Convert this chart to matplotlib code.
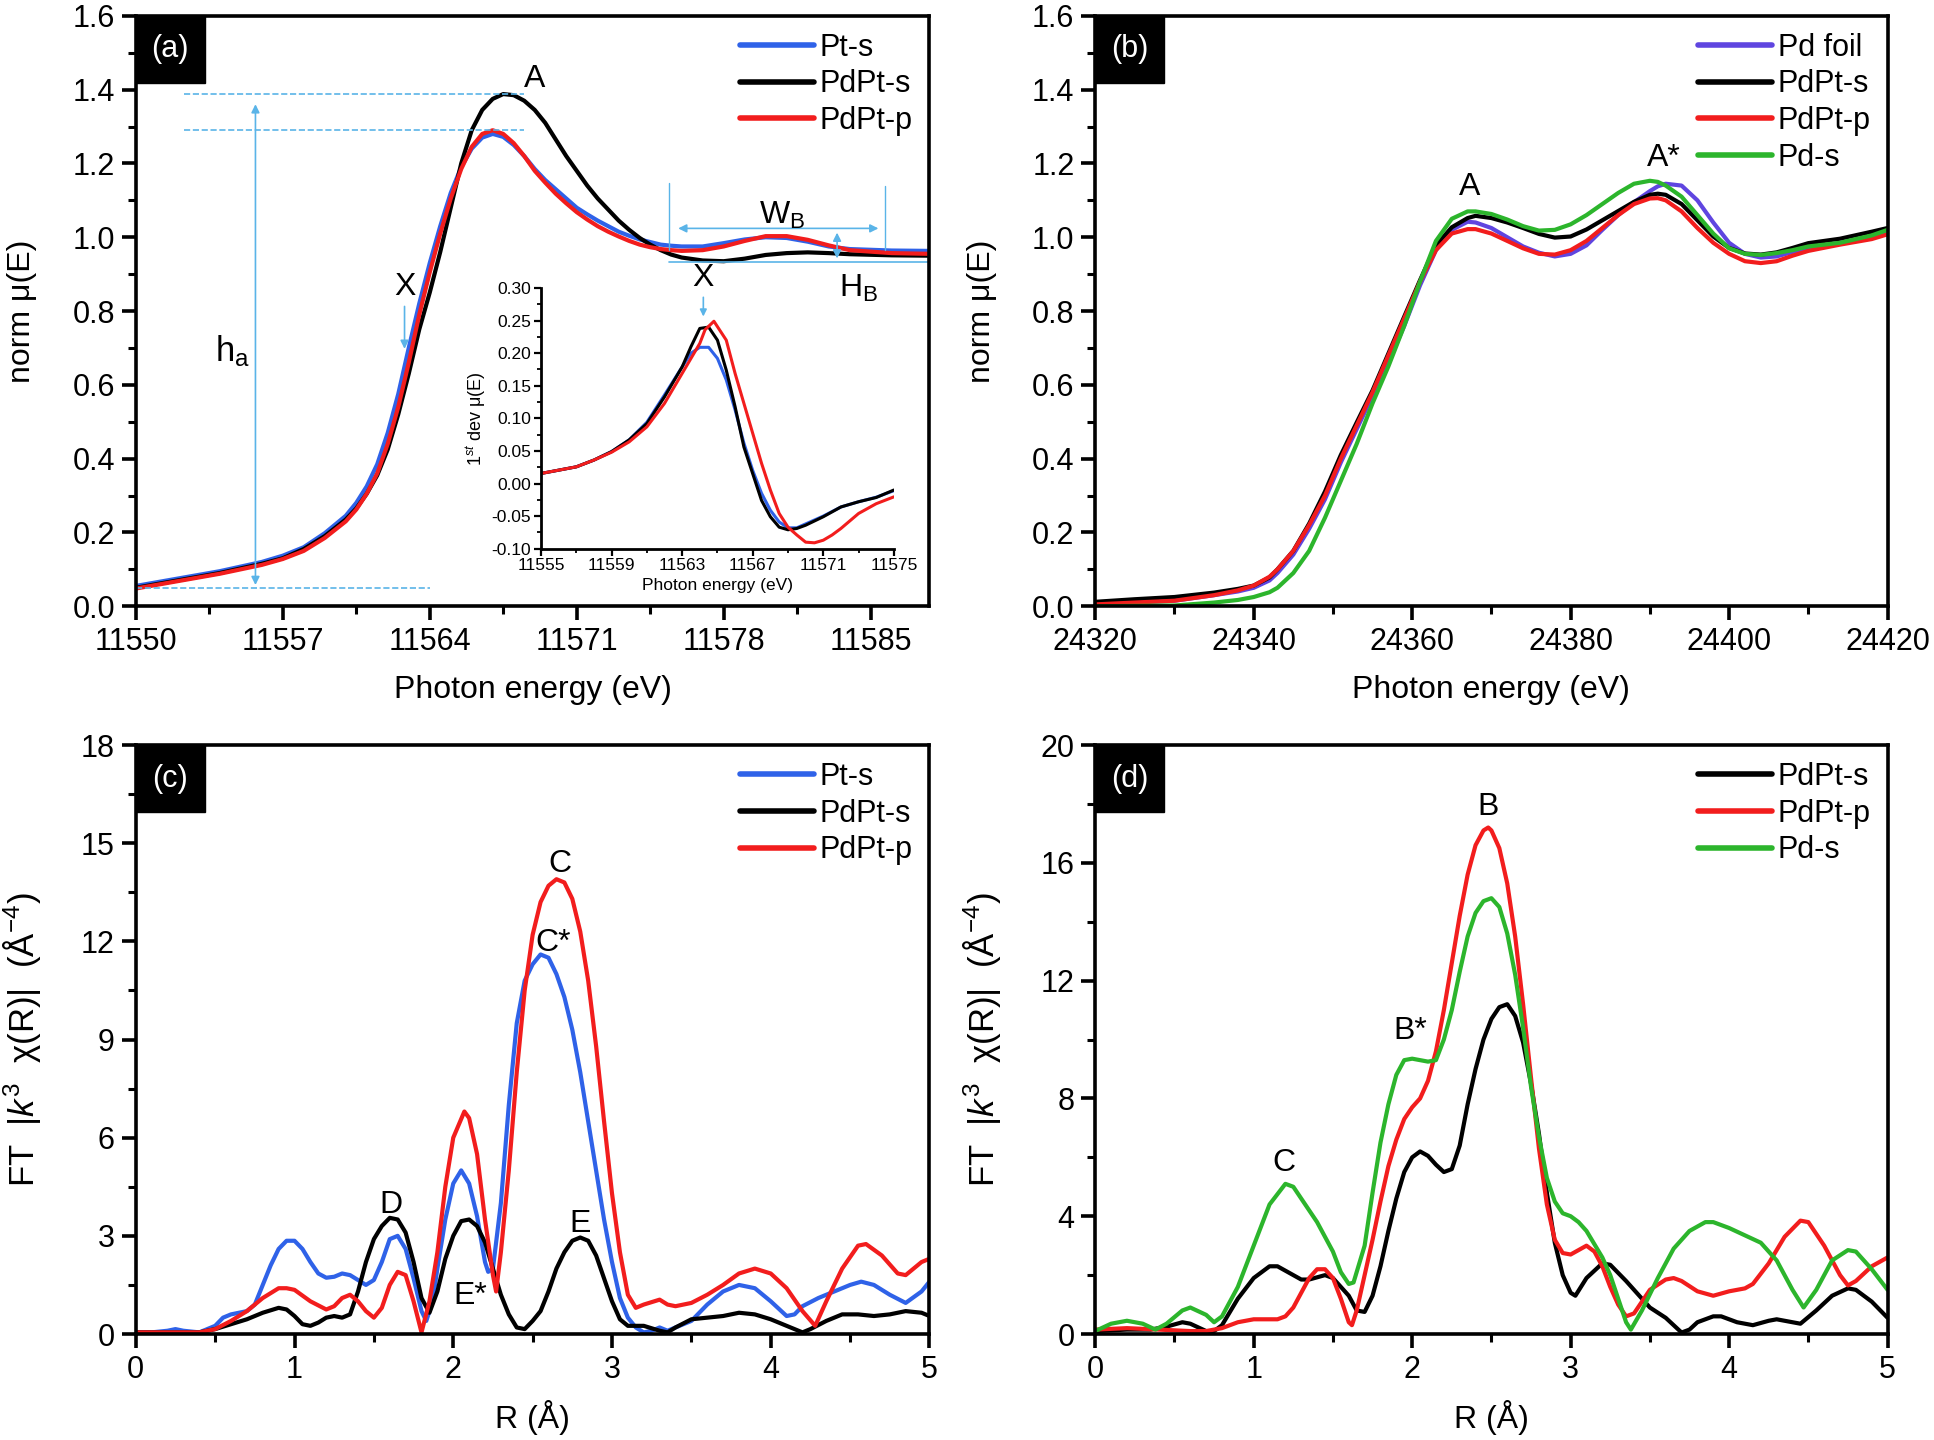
import numpy as np
import matplotlib
matplotlib.use("Agg")
import matplotlib.pyplot as plt
from matplotlib.patches import Rectangle

plt.rcParams['font.family'] = ['Liberation Sans', 'DejaVu Sans']
plt.rcParams['mathtext.fontset'] = 'custom'
plt.rcParams['mathtext.rm'] = 'Liberation Sans'
plt.rcParams['mathtext.it'] = 'Liberation Sans:italic'
plt.rcParams['lines.solid_joinstyle'] = 'round'
plt.rcParams['lines.solid_capstyle'] = 'round'

# ---------------- panel (a): Pt L3 edge XANES ----------------
ea = [11550, 11552, 11554, 11556, 11557, 11558, 11559, 11560, 11560.5, 11561, 11561.5, 11562,
      11562.5, 11563, 11563.5, 11564, 11564.5, 11565, 11565.5, 11566, 11566.5, 11567, 11567.5,
      11568, 11568.5, 11569, 11569.5, 11570, 11570.5, 11571, 11571.5, 11572, 11572.5, 11573,
      11573.5, 11574, 11574.5, 11575, 11575.5, 11576, 11577, 11578, 11579, 11580, 11581, 11582,
      11583, 11584, 11586, 11587.8]
mu_black = [0.05, 0.07, 0.09, 0.115, 0.13, 0.155, 0.19, 0.235, 0.265, 0.305, 0.355, 0.425,
            0.52, 0.63, 0.75, 0.85, 0.96, 1.08, 1.20, 1.29, 1.345, 1.375, 1.388,
            1.385, 1.37, 1.345, 1.31, 1.265, 1.22, 1.18, 1.14, 1.105, 1.075, 1.045,
            1.02, 0.998, 0.98, 0.965, 0.953, 0.945, 0.937, 0.935, 0.942, 0.952, 0.957, 0.959,
            0.957, 0.954, 0.951, 0.95]
mu_pts = [0.055, 0.075, 0.095, 0.12, 0.137, 0.16, 0.198, 0.245, 0.28, 0.325, 0.385, 0.47,
          0.575, 0.70, 0.82, 0.93, 1.03, 1.12, 1.19, 1.24, 1.27, 1.28, 1.272,
          1.25, 1.22, 1.185, 1.155, 1.13, 1.105, 1.08, 1.062, 1.045, 1.03, 1.015,
          1.004, 0.994, 0.987, 0.98, 0.977, 0.975, 0.975, 0.984, 0.994, 1.0, 0.998, 0.988,
          0.975, 0.968, 0.964, 0.963]
mu_red = [0.048, 0.068, 0.088, 0.112, 0.128, 0.15, 0.185, 0.23, 0.262, 0.305, 0.36, 0.44,
          0.54, 0.66, 0.79, 0.905, 1.01, 1.105, 1.185, 1.245, 1.28, 1.29, 1.28,
          1.255, 1.22, 1.18, 1.148, 1.118, 1.092, 1.068, 1.048, 1.03, 1.015, 1.002,
          0.99, 0.98, 0.973, 0.968, 0.965, 0.963, 0.965, 0.975, 0.99, 1.003, 1.003, 0.993,
          0.978, 0.965, 0.957, 0.955]

# inset: first derivative
ei = [11555, 11556, 11557, 11558, 11559, 11560, 11561, 11562, 11563, 11563.5, 11564, 11564.5,
      11565, 11565.5, 11566, 11566.5, 11567, 11567.5, 11568, 11568.5, 11569, 11569.5, 11570,
      11571, 11572, 11573, 11574, 11575]
d_black = [0.0154, 0.0205, 0.0256, 0.036, 0.049, 0.067, 0.092, 0.133, 0.179, 0.21, 0.238, 0.24,
           0.22, 0.174, 0.118, 0.056, 0.015, -0.026, -0.051, -0.067, -0.071, -0.069, -0.064,
           -0.051, -0.036, -0.028, -0.0215, -0.010]
d_pts = [0.0154, 0.0205, 0.0256, 0.036, 0.049, 0.067, 0.094, 0.136, 0.179, 0.20, 0.209, 0.209,
         0.192, 0.159, 0.113, 0.062, 0.02, -0.015, -0.041, -0.059, -0.068, -0.068, -0.062,
         -0.050, -0.036, -0.028, -0.021, -0.011]
ei_red = [11555, 11556, 11557, 11558, 11559, 11560, 11561, 11562, 11563, 11564, 11564.3, 11564.8,
          11565.5, 11566, 11566.5, 11567, 11567.5, 11568, 11568.5, 11569, 11569.5, 11570, 11570.5,
          11571, 11571.5, 11572, 11573, 11574, 11575]
d_red = [0.0154, 0.0205, 0.0256, 0.036, 0.048, 0.064, 0.087, 0.123, 0.169, 0.215, 0.236, 0.249,
         0.22, 0.169, 0.123, 0.077, 0.031, -0.01, -0.046, -0.067, -0.079, -0.09, -0.091,
         -0.087, -0.079, -0.069, -0.046, -0.031, -0.0205]

# ---------------- panel (b): Pd K edge XANES ----------------
eb = [24320, 24325, 24330, 24335, 24338, 24340, 24342, 24343, 24345, 24347, 24349, 24351, 24353,
      24355, 24357, 24359, 24361, 24363, 24365, 24367, 24368, 24370, 24372, 24374, 24376, 24378,
      24380, 24382, 24384, 24386, 24388, 24390, 24391, 24392, 24394, 24396, 24398, 24400, 24402,
      24404, 24406, 24408, 24410, 24414, 24418, 24420]
b_black = [0.012, 0.019, 0.025, 0.037, 0.047, 0.056, 0.078, 0.10, 0.15, 0.224, 0.311, 0.41, 0.498,
           0.585, 0.685, 0.785, 0.884, 0.978, 1.027, 1.052, 1.058, 1.052, 1.04, 1.025, 1.009,
           0.999, 1.002, 1.021, 1.046, 1.071, 1.096, 1.115, 1.118, 1.115, 1.09, 1.046, 1.002,
           0.971, 0.956, 0.953, 0.959, 0.971, 0.984, 0.996, 1.015, 1.025]
b_red = [0.005, 0.01, 0.015, 0.03, 0.043, 0.056, 0.08, 0.10, 0.15, 0.22, 0.30, 0.40, 0.49,
         0.58, 0.68, 0.78, 0.88, 0.965, 1.01, 1.022, 1.022, 1.01, 0.99, 0.97, 0.955,
         0.953, 0.965, 0.99, 1.025, 1.06, 1.09, 1.105, 1.106, 1.10, 1.07, 1.025, 0.985,
         0.955, 0.935, 0.93, 0.935, 0.95, 0.963, 0.98, 0.995, 1.008]
b_foil = [0.005, 0.01, 0.015, 0.03, 0.04, 0.05, 0.07, 0.09, 0.14, 0.21, 0.29, 0.39, 0.48,
          0.57, 0.66, 0.76, 0.87, 0.965, 1.02, 1.042, 1.04, 1.025, 1.0, 0.975, 0.958,
          0.948, 0.955, 0.978, 1.02, 1.06, 1.095, 1.125, 1.138, 1.145, 1.14, 1.10, 1.04,
          0.985, 0.955, 0.945, 0.948, 0.96, 0.97, 0.985, 1.0, 1.015]
b_pds = [0.0, 0.001, 0.002, 0.01, 0.017, 0.025, 0.038, 0.05, 0.09, 0.15, 0.24, 0.34, 0.44,
         0.55, 0.65, 0.76, 0.88, 0.99, 1.05, 1.07, 1.07, 1.063, 1.048, 1.03, 1.018,
         1.02, 1.035, 1.06, 1.09, 1.12, 1.145, 1.153, 1.15, 1.14, 1.11, 1.06, 1.01,
         0.97, 0.955, 0.952, 0.957, 0.965, 0.975, 0.985, 1.005, 1.02]

# ---------------- panel (c): FT Pt edge ----------------
rc_blue = [0, 0.1, 0.2, 0.25, 0.3, 0.4, 0.5, 0.55, 0.6, 0.7, 0.75, 0.8, 0.85, 0.9, 0.95, 1.0,
           1.05, 1.1, 1.15, 1.2, 1.25, 1.3, 1.35, 1.4, 1.45, 1.5, 1.55, 1.6, 1.65, 1.7, 1.75,
           1.8, 1.83, 1.87, 1.9, 1.95, 2.0, 2.05, 2.1, 2.15, 2.2, 2.22, 2.25, 2.3, 2.35, 2.4,
           2.45, 2.5, 2.55, 2.6, 2.65, 2.7, 2.75, 2.8, 2.85, 2.9, 2.95, 3.0, 3.05, 3.1, 3.15,
           3.2, 3.25, 3.3, 3.35, 3.4, 3.5, 3.6, 3.7, 3.8, 3.9, 4.0, 4.1, 4.15, 4.2, 4.3, 4.4,
           4.5, 4.57, 4.65, 4.75, 4.85, 4.95, 5.0]
c_blue = [0.05, 0.05, 0.1, 0.15, 0.1, 0.05, 0.25, 0.5, 0.6, 0.7, 0.9, 1.5, 2.1, 2.6, 2.85, 2.85,
          2.6, 2.2, 1.85, 1.72, 1.75, 1.85, 1.8, 1.65, 1.5, 1.65, 2.2, 2.9, 3.0, 2.6, 1.7,
          0.7, 0.4, 1.0, 2.0, 3.5, 4.6, 5.0, 4.6, 3.6, 2.2, 1.9, 2.0, 4.0, 7.0, 9.5,
          10.8, 11.3, 11.6, 11.5, 11.0, 10.3, 9.3, 8.0, 6.5, 5.0, 3.5, 2.2, 1.1, 0.5, 0.2,
          0.05, 0.1, 0.2, 0.1, 0.2, 0.4, 0.9, 1.3, 1.5, 1.4, 1.0, 0.55, 0.6, 0.85, 1.1, 1.3,
          1.5, 1.6, 1.5, 1.2, 0.95, 1.3, 1.6]
rc_red = [0, 0.3, 0.4, 0.5, 0.6, 0.7, 0.8, 0.9, 0.95, 1.0, 1.1, 1.2, 1.25, 1.3, 1.35, 1.4, 1.45,
          1.5, 1.55, 1.6, 1.65, 1.7, 1.75, 1.8, 1.85, 1.9, 1.95, 2.0, 2.07, 2.1, 2.15, 2.2,
          2.25, 2.27, 2.3, 2.35, 2.4, 2.45, 2.5, 2.55, 2.6, 2.65, 2.7, 2.75, 2.8, 2.85, 2.9,
          2.95, 3.0, 3.05, 3.1, 3.15, 3.2, 3.3, 3.35, 3.4, 3.5, 3.6, 3.7, 3.8, 3.9, 4.0, 4.1,
          4.2, 4.28, 4.35, 4.45, 4.55, 4.6, 4.7, 4.8, 4.85, 4.95, 5.0]
c_red = [0.05, 0.05, 0.05, 0.15, 0.4, 0.7, 1.1, 1.4, 1.4, 1.35, 1.0, 0.75, 0.85, 1.1, 1.2, 1.0, 0.7,
         0.5, 0.8, 1.5, 1.9, 1.8, 1.0, 0.05, 1.0, 2.5, 4.5, 6.0, 6.8, 6.6, 5.5, 3.5,
         1.8, 1.3, 2.5, 5.0, 8.0, 10.5, 12.2, 13.2, 13.7, 13.9, 13.8, 13.3, 12.3, 10.8, 8.8,
         6.5, 4.3, 2.5, 1.2, 0.8, 0.9, 1.05, 0.9, 0.85, 0.95, 1.2, 1.5, 1.85, 2.0, 1.85, 1.4,
         0.7, 0.25, 1.0, 2.0, 2.7, 2.75, 2.4, 1.85, 1.8, 2.2, 2.3]
rc_black = [0, 0.3, 0.4, 0.5, 0.6, 0.7, 0.8, 0.9, 0.95, 1.0, 1.05, 1.1, 1.15, 1.2, 1.25, 1.3, 1.35,
            1.4, 1.45, 1.5, 1.55, 1.6, 1.65, 1.7, 1.75, 1.8, 1.85, 1.9, 1.95, 2.0, 2.05, 2.1,
            2.15, 2.2, 2.25, 2.3, 2.35, 2.4, 2.45, 2.5, 2.55, 2.6, 2.65, 2.7, 2.75, 2.8, 2.85,
            2.9, 2.95, 3.0, 3.05, 3.1, 3.2, 3.3, 3.35, 3.4, 3.5, 3.6, 3.7, 3.8, 3.9, 4.0, 4.1,
            4.2, 4.25, 4.35, 4.45, 4.55, 4.65, 4.75, 4.85, 4.95, 5.0]
c_black = [0.05, 0.05, 0.05, 0.15, 0.3, 0.45, 0.65, 0.8, 0.75, 0.55, 0.3, 0.25, 0.35, 0.5, 0.55, 0.5, 0.6,
           1.3, 2.2, 2.9, 3.3, 3.55, 3.5, 3.1, 2.2, 1.1, 0.65, 1.3, 2.3, 3.0, 3.45, 3.5,
           3.3, 2.8, 2.0, 1.2, 0.6, 0.2, 0.15, 0.4, 0.7, 1.3, 2.0, 2.5, 2.85, 2.95, 2.85,
           2.4, 1.7, 1.0, 0.45, 0.25, 0.25, 0.1, 0.05, 0.2, 0.45, 0.5, 0.55, 0.65, 0.6, 0.45, 0.25,
           0.05, 0.15, 0.4, 0.6, 0.6, 0.55, 0.6, 0.7, 0.65, 0.55]

# ---------------- panel (d): FT Pd edge ----------------
rd_black = [0, 0.2, 0.35, 0.45, 0.55, 0.6, 0.7, 0.75, 0.8, 0.9, 1.0, 1.1, 1.15, 1.2, 1.3, 1.35,
            1.45, 1.5, 1.6, 1.65, 1.7, 1.75, 1.8, 1.85, 1.9, 1.95, 2.0, 2.05, 2.1, 2.15, 2.2,
            2.25, 2.3, 2.35, 2.4, 2.45, 2.5, 2.55, 2.6, 2.65, 2.7, 2.75, 2.8, 2.85, 2.9, 2.95,
            3.0, 3.03, 3.1, 3.2, 3.25, 3.35, 3.45, 3.5, 3.6, 3.7, 3.75, 3.8, 3.9, 3.95, 4.05,
            4.15, 4.25, 4.3, 4.4, 4.45, 4.55, 4.65, 4.75, 4.8, 4.9, 5.0]
d_black_ft = [0.1, 0.15, 0.15, 0.25, 0.4, 0.35, 0.1, 0.1, 0.3, 1.2, 1.9, 2.3, 2.3, 2.15, 1.85, 1.85,
              2.0, 1.9, 1.3, 0.8, 0.75, 1.3, 2.3, 3.5, 4.6, 5.5, 6.0, 6.2, 6.05, 5.75, 5.5,
              5.6, 6.4, 7.8, 9.0, 10.0, 10.7, 11.1, 11.2, 10.8, 9.9, 8.5, 6.8, 4.8, 3.1, 2.0,
              1.4, 1.3, 1.9, 2.4, 2.35, 1.8, 1.2, 0.9, 0.55, 0.05, 0.15, 0.4, 0.6, 0.6, 0.4,
              0.3, 0.45, 0.5, 0.4, 0.35, 0.8, 1.3, 1.55, 1.5, 1.1, 0.55]
rd_red = [0, 0.2, 0.4, 0.6, 0.7, 0.8, 0.9, 1.0, 1.1, 1.15, 1.2, 1.25, 1.3, 1.35, 1.4, 1.45, 1.5,
          1.55, 1.6, 1.62, 1.65, 1.7, 1.75, 1.8, 1.85, 1.9, 1.95, 2.0, 2.05, 2.1, 2.15, 2.2,
          2.25, 2.3, 2.35, 2.4, 2.45, 2.48, 2.5, 2.55, 2.6, 2.65, 2.7, 2.75, 2.8, 2.85, 2.9,
          2.95, 3.0, 3.05, 3.1, 3.15, 3.2, 3.25, 3.3, 3.35, 3.4, 3.45, 3.5, 3.6, 3.65, 3.7,
          3.8, 3.9, 4.0, 4.1, 4.15, 4.25, 4.35, 4.45, 4.5, 4.6, 4.7, 4.75, 4.8, 4.9, 5.0]
d_red_ft = [0.15, 0.2, 0.15, 0.1, 0.1, 0.2, 0.4, 0.5, 0.5, 0.5, 0.6, 0.9, 1.4, 1.9, 2.2, 2.2, 1.9,
            1.2, 0.4, 0.3, 0.8, 2.0, 3.2, 4.5, 5.7, 6.6, 7.3, 7.7, 8.0, 8.6, 9.6, 11.0,
            12.6, 14.2, 15.6, 16.6, 17.1, 17.2, 17.1, 16.5, 15.3, 13.5, 11.2, 8.7, 6.3, 4.4, 3.2,
            2.75, 2.7, 2.85, 3.0, 2.8, 2.3, 1.6, 1.0, 0.6, 0.7, 1.1, 1.5, 1.85, 1.9, 1.8,
            1.45, 1.3, 1.45, 1.55, 1.7, 2.4, 3.3, 3.85, 3.8, 3.0, 2.0, 1.65, 1.8, 2.3, 2.6]
rd_green = [0, 0.1, 0.2, 0.3, 0.38, 0.45, 0.55, 0.6, 0.7, 0.75, 0.8, 0.9, 1.0, 1.1, 1.2, 1.25,
            1.3, 1.4, 1.5, 1.55, 1.6, 1.63, 1.7, 1.75, 1.8, 1.85, 1.9, 1.95, 2.0, 2.05, 2.1,
            2.15, 2.2, 2.25, 2.3, 2.35, 2.4, 2.45, 2.5, 2.55, 2.6, 2.65, 2.7, 2.75, 2.8, 2.85,
            2.9, 2.95, 3.0, 3.05, 3.1, 3.2, 3.25, 3.3, 3.35, 3.38, 3.45, 3.55, 3.65, 3.75, 3.85,
            3.9, 4.0, 4.1, 4.2, 4.3, 4.4, 4.47, 4.55, 4.65, 4.75, 4.8, 4.9, 5.0]
d_green_ft = [0.1, 0.35, 0.45, 0.35, 0.15, 0.35, 0.8, 0.9, 0.65, 0.4, 0.6, 1.6, 3.0, 4.4, 5.1, 5.0,
              4.6, 3.8, 2.8, 2.1, 1.7, 1.75, 3.0, 4.8, 6.5, 7.8, 8.8, 9.3, 9.35, 9.3, 9.25,
              9.3, 10.0, 11.0, 12.3, 13.5, 14.3, 14.7, 14.8, 14.5, 13.6, 12.2, 10.4, 8.4, 6.7, 5.3,
              4.5, 4.1, 4.0, 3.8, 3.5, 2.6, 2.0, 1.2, 0.4, 0.15, 0.8, 1.9, 2.9, 3.5, 3.8,
              3.8, 3.6, 3.35, 3.1, 2.5, 1.5, 0.9, 1.5, 2.5, 2.85, 2.8, 2.2, 1.5]

c_blue_col = '#2f62e8'
c_red_col = '#f21d1d'
c_green_col = '#2cb52c'
c_foil_col = '#5f45e0'
c_guide = '#5ab4e8'

FS = 22
LFS = 23
LW = 3.0

fig = plt.figure(figsize=(19.34, 14.4), dpi=100)

pos_a = [0.0702, 0.579, 0.4104, 0.410]
pos_b = [0.5663, 0.579, 0.4097, 0.410]
pos_c = [0.0702, 0.0736, 0.4104, 0.409]
pos_d = [0.5663, 0.0736, 0.4097, 0.409]


def style(ax, tag, xlab, ylab, yfs=LFS):
    for s in ax.spines.values():
        s.set_linewidth(2.6)
    ax.tick_params(which='major', direction='out', length=10, width=2.6, labelsize=FS,
                   top=False, right=False, pad=5)
    ax.tick_params(which='minor', direction='out', length=6, width=2.2, top=False, right=False)
    ax.add_patch(Rectangle((0, 1), 0.087, -0.1135, transform=ax.transAxes,
                           color='black', zorder=5, clip_on=False))
    ax.text(0.0435, 1 - 0.057, tag, transform=ax.transAxes, color='white',
            ha='center', va='center', fontsize=FS, zorder=6)
    ax.set_xlabel(xlab, fontsize=LFS)
    ax.set_ylabel(ylab, fontsize=yfs)
    ax.xaxis.set_label_coords(0.5, -0.142)
    ax.xaxis.label.set_va('center')
    ax.yaxis.set_label_coords(-0.143, 0.5)
    ax.yaxis.label.set_va('center')


def legend(ax):
    lg = ax.legend(loc='upper right', frameon=False, fontsize=FS, handlelength=2.4,
                   handletextpad=0.2, labelspacing=0.22, borderaxespad=0.15)
    for h in lg.get_lines():
        h.set_linewidth(4.0)


# ---- (a)
ax = fig.add_axes(pos_a)
ax.plot(ea, mu_pts, color=c_blue_col, lw=LW, label='Pt-s')
ax.plot(ea, mu_black, color='black', lw=LW, label='PdPt-s')
ax.plot(ea, mu_red, color=c_red_col, lw=LW, label='PdPt-p')
ax.set_xlim(11550, 11587.8)
ax.set_ylim(0, 1.6)
ax.set_xticks([11550, 11557, 11564, 11571, 11578, 11585])
ax.set_xticks(np.arange(11553.5, 11587, 7), minor=True)
ax.set_yticks(np.arange(0, 1.61, 0.2))
ax.set_yticks(np.arange(0.1, 1.6, 0.2), minor=True)
ax.yaxis.set_major_formatter(matplotlib.ticker.FormatStrFormatter('%.1f'))
style(ax, '(a)', 'Photon energy (eV)', 'norm μ(E)')
legend(ax)

# guide lines for h_a, W_B and H_B
top_black = max(mu_black)
top_red = max(mu_red)
base = mu_black[0]
ax.plot([11552.3, 11568.5], [top_black, top_black], ls='--', lw=1.2, color=c_guide)
ax.plot([11552.3, 11568.5], [top_red, top_red], ls='--', lw=1.2, color=c_guide)
ax.plot([11550, 11564], [base, base], ls='--', lw=1.2, color=c_guide)
ax.annotate('', xy=(11555.7, base), xytext=(11555.7, top_black - 0.02),
            arrowprops=dict(arrowstyle='<|-|>', color=c_guide, lw=1.2, mutation_scale=12))
ax.text(11554.6, 0.69, '$\\mathregular{h_a}$', fontsize=FS + 3, ha='center', va='center')
ax.annotate('', xy=(11562.8, 0.69), xytext=(11562.8, 0.82),
            arrowprops=dict(arrowstyle='-|>', color=c_guide, lw=1.2, mutation_scale=12))
ax.text(11562.8, 0.865, 'X', fontsize=FS + 1, ha='center', va='center')
ax.text(11569.0, 1.43, 'A', fontsize=FS + 1, ha='center', va='center')
b_floor = min(mu_black[30:])
ax.plot([11575.4, 11575.4], [b_floor + 0.03, 1.146], lw=1.0, color=c_guide)
ax.plot([11585.7, 11585.7], [b_floor + 0.03, 1.14], lw=1.0, color=c_guide)
ax.plot([11575.4, 11587.8], [b_floor - 0.003, b_floor - 0.003], lw=1.2, color=c_guide)
ax.annotate('', xy=(11575.7, 1.024), xytext=(11585.5, 1.024),
            arrowprops=dict(arrowstyle='<|-|>', color=c_guide, lw=1.2, mutation_scale=12))
ax.annotate('', xy=(11583.4, b_floor), xytext=(11583.4, 1.02),
            arrowprops=dict(arrowstyle='<|-|>', color=c_guide, lw=1.2, mutation_scale=12))
ax.text(11580.8, 1.06, '$\\mathregular{W_B}$', fontsize=FS + 1, ha='center', va='center')
ax.text(11584.4, 0.86, '$\\mathregular{H_B}$', fontsize=FS + 1, ha='center', va='center')

# inset
ai = ax.inset_axes([0.5106, 0.0975, 0.4445, 0.4415])
ai.plot(ei, d_pts, color=c_blue_col, lw=2.2)
ai.plot(ei, d_black, color='black', lw=2.2)
ai.plot(ei_red, d_red, color=c_red_col, lw=2.2)
ai.set_xlim(11555, 11575)
ai.set_ylim(-0.10, 0.30)
ai.set_xticks(np.arange(11555, 11576, 4))
ai.set_xticks(np.arange(11557, 11575, 4), minor=True)
ai.set_yticks(np.arange(-0.10, 0.301, 0.05))
ai.set_yticks(np.arange(-0.075, 0.3, 0.05), minor=True)
ai.yaxis.set_major_formatter(matplotlib.ticker.FormatStrFormatter('%.2f'))
ai.spines['top'].set_visible(False)
ai.spines['right'].set_visible(False)
for s in ('left', 'bottom'):
    ai.spines[s].set_linewidth(2.0)
ai.tick_params(which='major', direction='out', length=5, width=1.6, labelsize=12.5, pad=2)
ai.tick_params(which='minor', direction='out', length=3, width=1.3)
ai.set_xlabel('Photon energy (eV)', fontsize=12.5, labelpad=3)
ai.set_ylabel('1$^{st}$ dev μ(E)', fontsize=13, labelpad=3)
ai.patch.set_alpha(0)
ai.annotate('', xy=(11564.2, 0.252), xytext=(11564.2, 0.29),
            arrowprops=dict(arrowstyle='-|>', color=c_guide, lw=1.2, mutation_scale=10),
            annotation_clip=False)
ai.text(11564.2, 0.315, 'X', fontsize=FS + 1, ha='center', va='center', clip_on=False)

# ---- (b)
ax = fig.add_axes(pos_b)
ax.plot(eb, b_foil, color=c_foil_col, lw=LW, label='Pd foil')
ax.plot(eb, b_black, color='black', lw=LW, label='PdPt-s')
ax.plot(eb, b_red, color=c_red_col, lw=LW, label='PdPt-p')
ax.plot(eb, b_pds, color=c_green_col, lw=LW, label='Pd-s')
ax.set_xlim(24320, 24420)
ax.set_ylim(0, 1.6)
ax.set_xticks(np.arange(24320, 24421, 20))
ax.set_xticks(np.arange(24330, 24420, 20), minor=True)
ax.set_yticks(np.arange(0, 1.61, 0.2))
ax.set_yticks(np.arange(0.1, 1.6, 0.2), minor=True)
ax.yaxis.set_major_formatter(matplotlib.ticker.FormatStrFormatter('%.1f'))
style(ax, '(b)', 'Photon energy (eV)', 'norm μ(E)')
legend(ax)
ax.text(24367.2, 1.135, 'A', fontsize=FS + 1, ha='center', va='center')
ax.text(24391.8, 1.215, 'A*', fontsize=FS + 1, ha='center', va='center')

ft_label = 'FT  |$\\mathit{k}^{3}$  χ(R)|  (Å$^{-4}$)'

# ---- (c)
ax = fig.add_axes(pos_c)
ax.plot(rc_blue, c_blue, color=c_blue_col, lw=LW, label='Pt-s')
ax.plot(rc_black, c_black, color='black', lw=LW, label='PdPt-s')
ax.plot(rc_red, c_red, color=c_red_col, lw=LW, label='PdPt-p')
ax.set_xlim(0, 5)
ax.set_ylim(0, 18)
ax.set_xticks(range(0, 6))
ax.set_xticks(np.arange(0.5, 5, 1), minor=True)
ax.set_yticks(range(0, 19, 3))
ax.set_yticks(np.arange(1.5, 18, 3), minor=True)
style(ax, '(c)', 'R (Å)', ft_label, yfs=25)
legend(ax)
ax.text(2.67, 14.35, 'C', fontsize=FS + 1, ha='center', va='center')
ax.text(2.63, 11.95, 'C*', fontsize=FS + 1, ha='center', va='center')
ax.text(1.61, 3.95, 'D', fontsize=FS + 1, ha='center', va='center')
ax.text(2.11, 1.15, 'E*', fontsize=FS + 1, ha='center', va='center')
ax.text(2.80, 3.35, 'E', fontsize=FS + 1, ha='center', va='center')

# ---- (d)
ax = fig.add_axes(pos_d)
ax.plot(rd_black, d_black_ft, color='black', lw=LW, label='PdPt-s')
ax.plot(rd_red, d_red_ft, color=c_red_col, lw=LW, label='PdPt-p')
ax.plot(rd_green, d_green_ft, color=c_green_col, lw=LW, label='Pd-s')
ax.set_xlim(0, 5)
ax.set_ylim(0, 20)
ax.set_xticks(range(0, 6))
ax.set_xticks(np.arange(0.5, 5, 1), minor=True)
ax.set_yticks(range(0, 21, 4))
ax.set_yticks(np.arange(2, 20, 4), minor=True)
style(ax, '(d)', 'R (Å)', ft_label, yfs=25)
legend(ax)
ax.text(2.48, 17.9, 'B', fontsize=FS + 1, ha='center', va='center')
ax.text(1.99, 10.3, 'B*', fontsize=FS + 1, ha='center', va='center')
ax.text(1.19, 5.8, 'C', fontsize=FS + 1, ha='center', va='center')

fig.savefig('out.png', dpi=100)
